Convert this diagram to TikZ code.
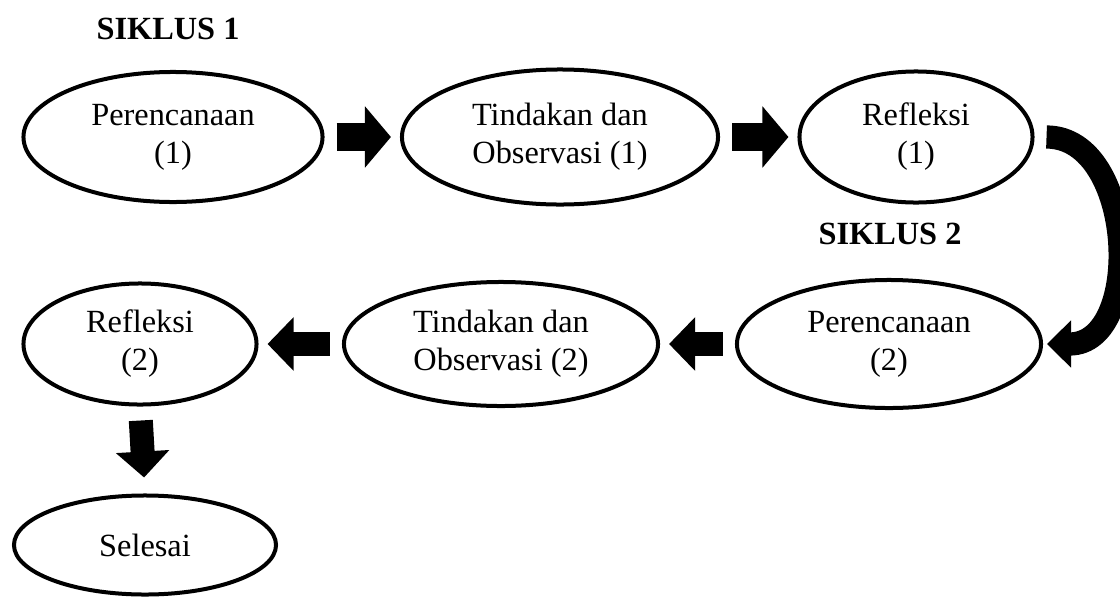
\documentclass[tikz,border=0pt]{standalone}
\usepackage{fontspec}
\setmainfont{Liberation Serif}
\usetikzlibrary{arrows.meta,shapes.geometric}

\begin{document}
\begin{tikzpicture}[x=0.025cm,y=-0.025cm]
\tikzstyle{tahap}=[draw,ellipse,line width=0.1cm,inner sep=0pt,align=center,font=\fontsize{23}{27}\selectfont]
\tikzstyle{siklus}=[font=\fontsize{23}{27}\selectfont\bfseries]
\tikzstyle{panah}=[line width=0.6cm,-{Triangle[width=1.3cm,length=0.65cm]},shorten <=0.3cm,shorten >=0.225cm]
\tikzstyle{panah besar}=[panah,line width=0.68cm,-{Triangle[width=1.5cm,length=0.65cm]}]

\useasboundingbox (0,0) rectangle (1120,599);

% siklus 1
\node[siklus] (s1) at (168,29) {SIKLUS 1};
\node[tahap,minimum width=7.475cm,minimum height=3.25cm] (p1) at (173,137) {Perencanaan\\(1)};
\node[tahap,minimum width=7.9cm,minimum height=3.375cm] (t1) at (560,137) {Tindakan dan\\Observasi (1)};
\node[tahap,minimum width=5.825cm,minimum height=3.275cm] (r1) at (916,137) {Refleksi\\(1)};

% siklus 2
\node[siklus] (s2) at (890,234) {SIKLUS 2};
\node[tahap,minimum width=7.6cm,minimum height=3.2cm] (p2) at (889,344) {Perencanaan\\(2)};
\node[tahap,minimum width=7.85cm,minimum height=3.1cm] (t2) at (501,344) {Tindakan dan\\Observasi (2)};
\node[tahap,minimum width=5.825cm,minimum height=3.025cm] (r2) at (140,344) {Refleksi\\(2)};
\node[tahap,minimum width=6.55cm,minimum height=2.475cm] (selesai) at (145,545) {Selesai};

\draw[panah besar] (p1.east) -- (t1.west);
\draw[panah besar] (t1.east) -- (r1.west);
\draw[line width=0.58cm,-{Triangle[width=1.15cm,length=0.6cm]},shorten <=0.3cm,shorten >=0.1cm]
  (r1.east) to[out=0,in=0,looseness=1.25] (p2.east);
\draw[panah] (p2.west) -- (t2.east);
\draw[panah] (t2.west) -- (r2.east);
\draw[panah,shorten <=0.35cm,shorten >=0.4cm] (r2.south) -- (selesai.north);
\end{tikzpicture}
\end{document}
